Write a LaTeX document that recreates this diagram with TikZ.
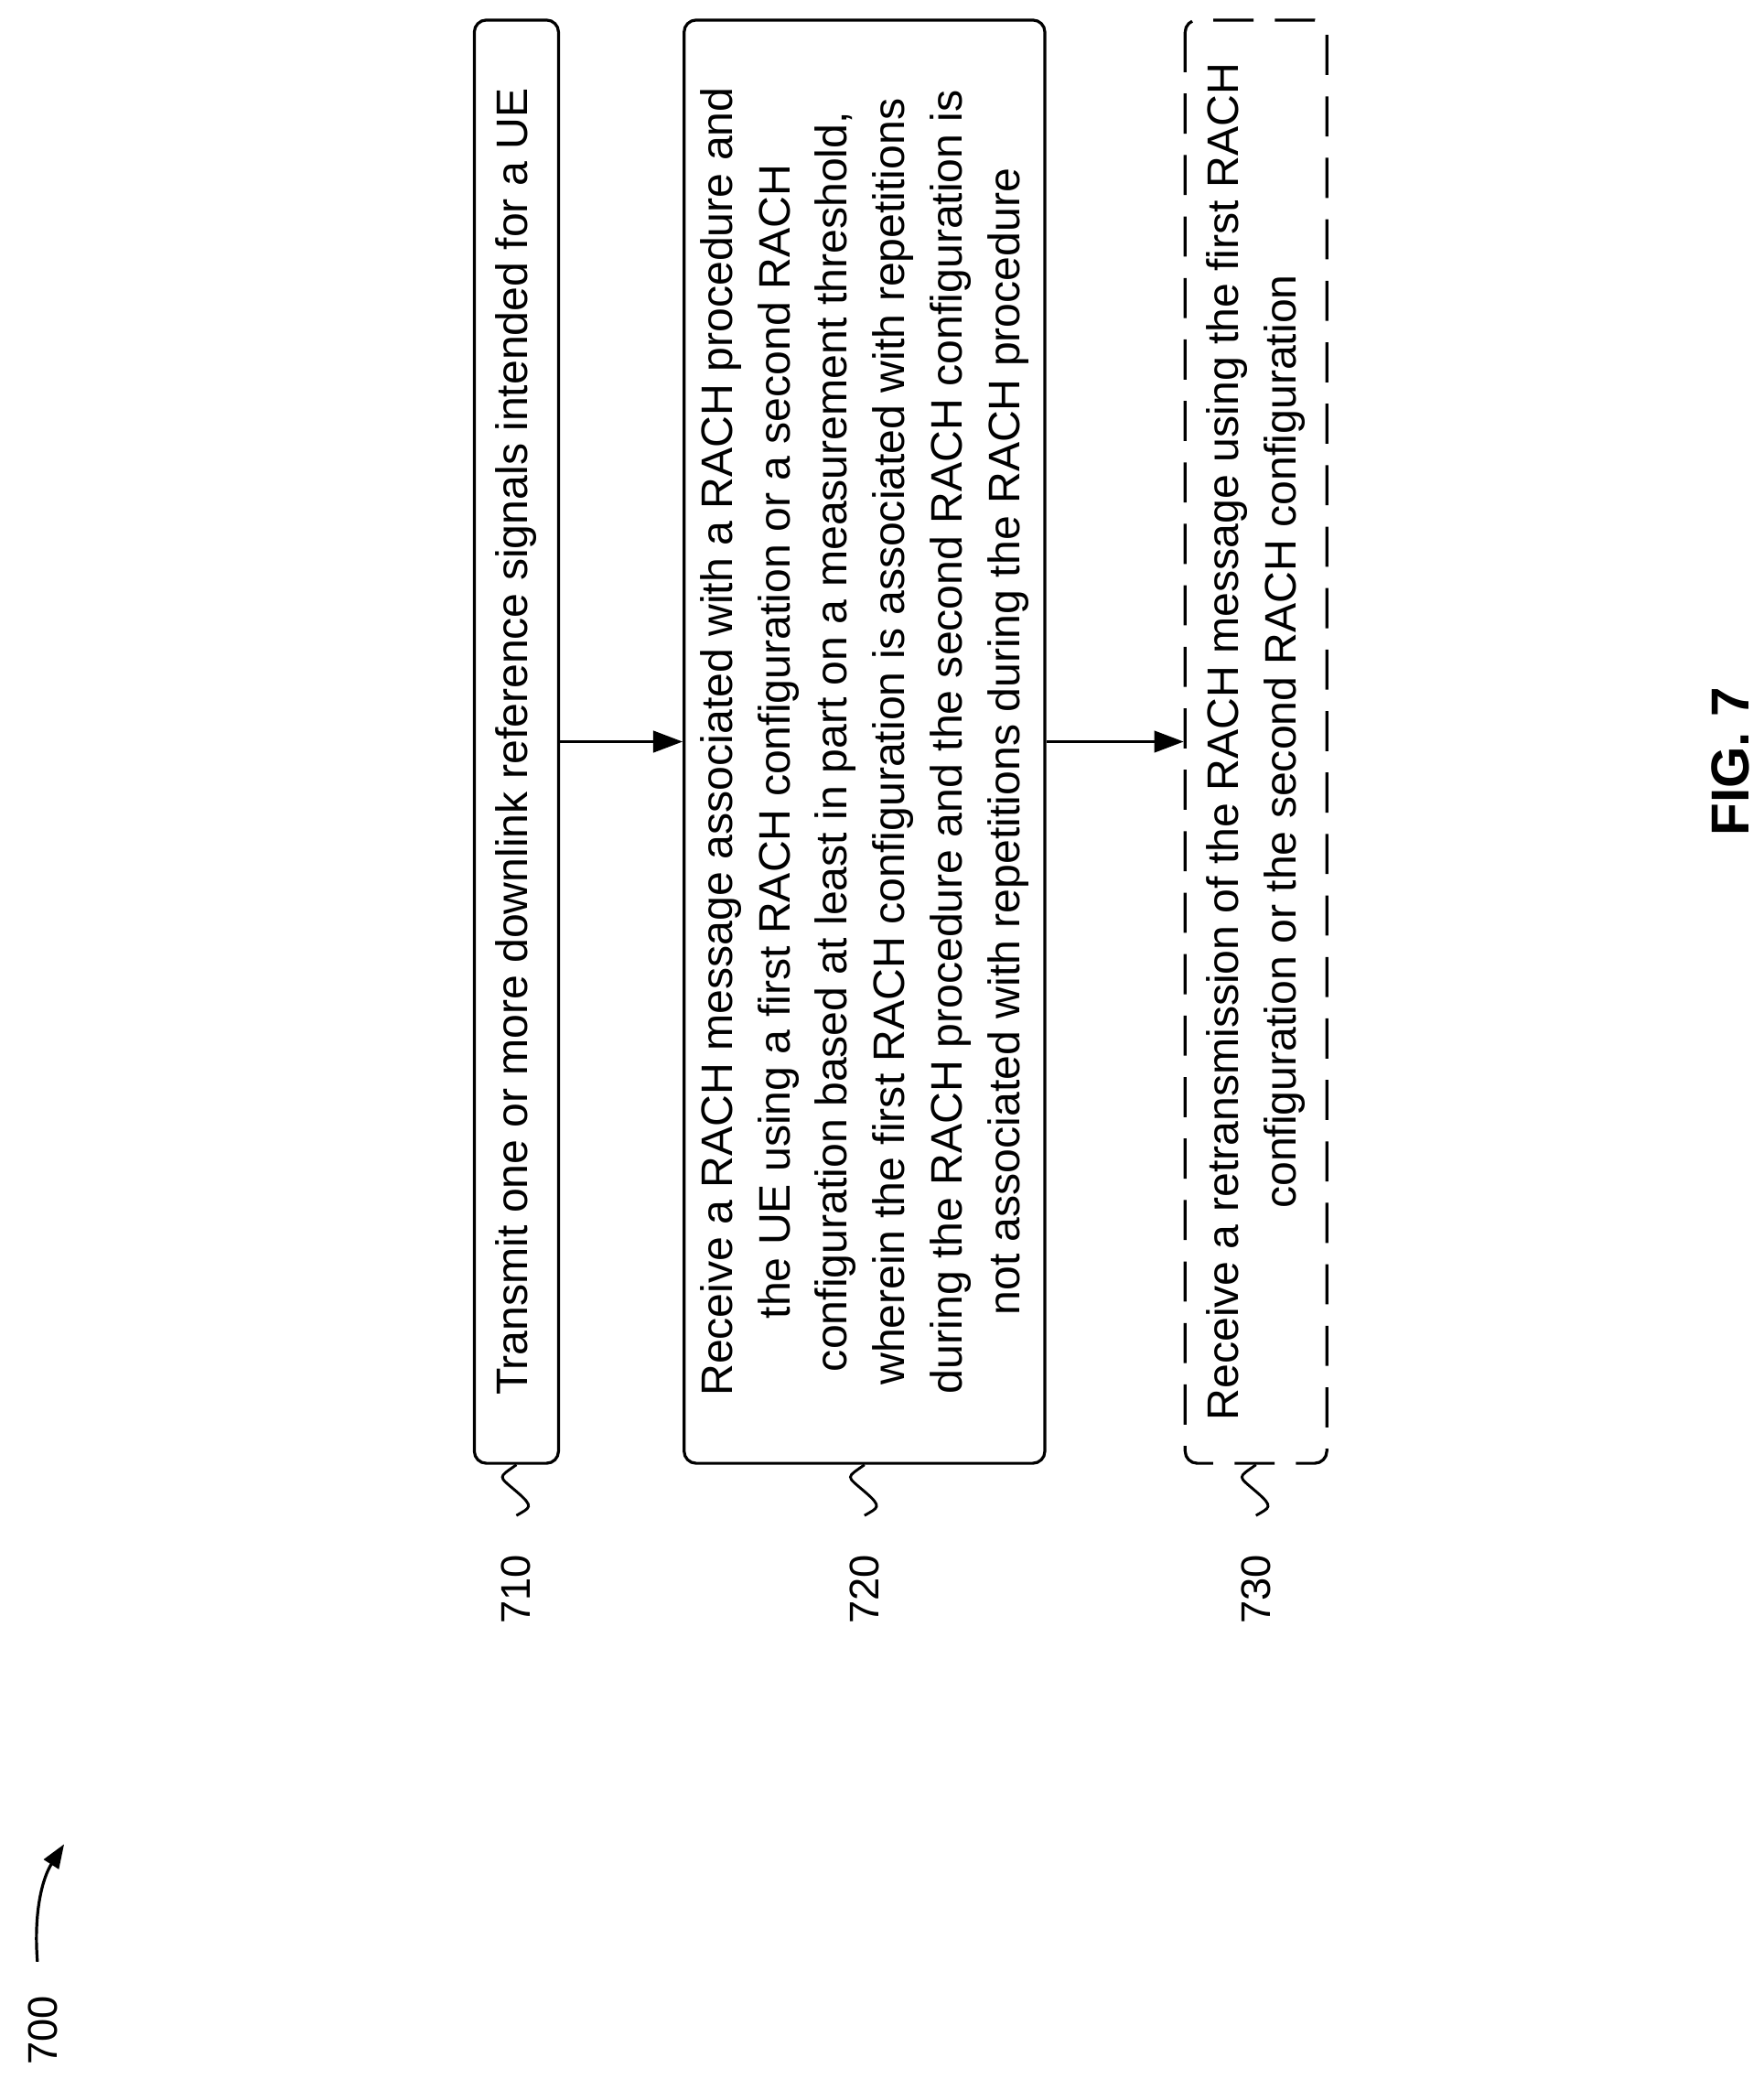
\documentclass[tikz,border=0pt]{standalone}
\usepackage{fontspec}
\setmainfont{Liberation Sans}
\usetikzlibrary{arrows.meta}
\begin{document}
\begin{tikzpicture}[x=1pt,y=-1pt,
  box/.style={draw,line width=2.2pt,rounded corners=9pt,rotate=90,minimum width=1080pt,align=center,inner sep=0pt,font=\fontsize{33}{43}\selectfont},
  lbl/.style={rotate=90,font=\fontsize{31}{37}\selectfont},
  arr/.style={line width=2.2pt,-{Triangle[length=22pt,width=16pt]}},
  sq/.style={line width=2pt}]
\useasboundingbox (0,0) rectangle (1320,1564);
\node[box,minimum height=63pt] (b1) at (386.5,555) {Transmit one or more downlink reference signals intended for a UE};
\node[box,minimum height=270pt] (b2) at (647,555) {Receive a RACH message associated with a RACH procedure and\\the UE using a first RACH configuration or a second RACH\\configuration based at least in part on a measurement threshold,\\wherein the first RACH configuration is associated with repetitions\\during the RACH procedure and the second RACH configuration is\\not associated with repetitions during the RACH procedure};
\node[box,dashed,dash pattern=on 30pt off 16pt,minimum height=106pt] (b3) at (940,555) {Receive a retransmission of the RACH message using the first RACH\\configuration or the second RACH configuration};
\draw[arr] (b1.south) -- (b2.north);
\draw[arr] (b2.south) -- (b3.north);
\foreach \n/\x/\t in {b1/386/710,b2/647/720,b3/940/730}{
  \draw[sq] (\n.west) .. controls +(-14,10) and +(-14,-12) .. ++(0,20) .. controls +(14,12) and +(10,-6) .. ++(0,18) coordinate (s\t);
  \node[lbl,anchor=east] (l\t) at (\x,1160) {\t};
}
\node[rotate=90,font=\fontsize{40}{48}\selectfont\bfseries] (fig) at (1295,570) {FIG. 7};
\node[lbl,anchor=east] (l700) at (32,1490) {700};
\coordinate (a0) at (28,1468);
\coordinate (a1) at (48,1380);
\draw[line width=2.2pt,-{Triangle[length=18pt,width=13pt]}] (a0) .. controls (25,1430) and (32,1405) .. (a1);
\end{tikzpicture}
\end{document}
